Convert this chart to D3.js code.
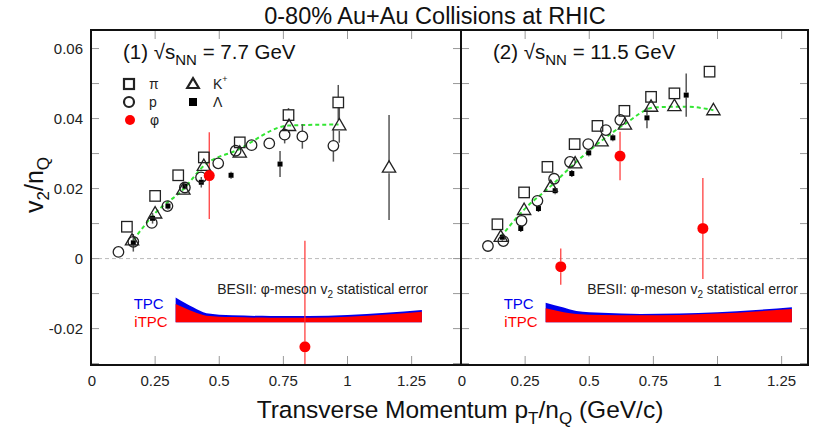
<!DOCTYPE html>
<html><head><meta charset="utf-8">
<script src="https://cdn.jsdelivr.net/npm/d3@7"></script>
<style>body{margin:0;background:#fff}svg{display:block}text{font-family:"Liberation Sans",Arial,Helvetica,sans-serif}</style>
</head><body><svg id="c" width="824" height="433"></svg>
<script>
// ---------- DATA ----------
const xTicks = [0, 0.25, 0.5, 0.75, 1, 1.25];
const xTickLabels = ["0", "0.25", "0.5", "0.75", "1", "1.25"];
const yMajorTicks = [-0.02, 0, 0.02, 0.04, 0.06];
const yTickLabels = ["-0.02", "0", "0.02", "0.04", "0.06"];
const yMinorTicks = [-0.03, -0.01, 0.01, 0.03, 0.05];

// Panel 1: 7.7 GeV
const p1PionX = [0.14, 0.25, 0.34, 0.44, 0.58, 0.77, 0.964];
const p1PionY = [0.0091, 0.0179, 0.0238, 0.0289, 0.0332, 0.0410, 0.0446];
const p1PionE = [0.001, 0.001, 0.001, 0.001, 0.001, 0.002, 0.005];
const p1ProtonX = [0.107, 0.165, 0.237, 0.298, 0.366, 0.429, 0.496, 0.564, 0.626, 0.695, 0.755, 0.824, 0.945];
const p1ProtonY = [0.0019, 0.0048, 0.0102, 0.0150, 0.0203, 0.0232, 0.0272, 0.0308, 0.0324, 0.0329, 0.0354, 0.0349, 0.0322];
const p1ProtonE = [0.0005, 0.0008, 0.001, 0.001, 0.001, 0.001, 0.001, 0.001, 0.001, 0.001, 0.0025, 0.0035, 0.0045];
const p1KaonX = [0.16, 0.25, 0.36, 0.44, 0.58, 0.772, 0.968, 1.162];
const p1KaonY = [0.0052, 0.0129, 0.0197, 0.0265, 0.0303, 0.0379, 0.0381, 0.0260];
const p1KaonE = [0.001, 0.001, 0.001, 0.001, 0.001, 0.002, 0.005, 0.015];
const p1LambdaX = [0.165, 0.24, 0.30, 0.366, 0.43, 0.546, 0.737];
const p1LambdaY = [0.0045, 0.0115, 0.0150, 0.0207, 0.0218, 0.0238, 0.0270];
const p1LambdaE = [0.0025, 0.0015, 0.001, 0.001, 0.0015, 0.001, 0.0037];
const p1PhiX = [0.461, 0.834];
const p1PhiY = [0.0237, -0.0252];
const p1PhiE = [0.0124, 0.0303];
const p1FitX = [0.165, 0.25, 0.36, 0.44, 0.57, 0.77, 0.965];
const p1FitY = [0.0053, 0.013, 0.0198, 0.0265, 0.031, 0.038, 0.0383];
const p1BandX = [0.33, 0.40, 0.45, 0.55, 0.70, 0.85, 1.0, 1.15, 1.29];
const p1BandTPC = [-0.0111, -0.0140, -0.0156, -0.0162, -0.0164, -0.0164, -0.0161, -0.0155, -0.0147];
const p1BandITPC = [-0.0130, -0.0152, -0.0163, -0.0167, -0.0169, -0.0169, -0.0166, -0.0160, -0.0152];

// Panel 2: 11.5 GeV
const p2PionX = [0.142, 0.246, 0.337, 0.443, 0.532, 0.637, 0.741, 0.832, 0.969];
const p2PionY = [0.0098, 0.0189, 0.0262, 0.0327, 0.0379, 0.0422, 0.0462, 0.0472, 0.0534];
const p2PionE = [0.001, 0.001, 0.001, 0.001, 0.001, 0.001, 0.001, 0.001, 0.001];
const p2ProtonX = [0.105, 0.165, 0.236, 0.298, 0.363, 0.425, 0.496, 0.565, 0.621];
const p2ProtonY = [0.0036, 0.0050, 0.0108, 0.0165, 0.0228, 0.0276, 0.0327, 0.0367, 0.0396];
const p2ProtonE = [0.0005, 0.0005, 0.0008, 0.0008, 0.001, 0.001, 0.001, 0.001, 0.001];
const p2KaonX = [0.155, 0.246, 0.35, 0.445, 0.548, 0.639, 0.741, 0.832, 0.984];
const p2KaonY = [0.0062, 0.0139, 0.0205, 0.0272, 0.0335, 0.0383, 0.0434, 0.0436, 0.0424];
const p2KaonE = [0.0005, 0.0008, 0.0008, 0.001, 0.001, 0.001, 0.001, 0.001, 0.001];
const p2LambdaX = [0.161, 0.233, 0.302, 0.367, 0.432, 0.498, 0.592, 0.725, 0.878];
const p2LambdaY = [0.0061, 0.0086, 0.0143, 0.0194, 0.0243, 0.0302, 0.0345, 0.0402, 0.0467];
const p2LambdaE = [0.001, 0.001, 0.001, 0.001, 0.001, 0.001, 0.001, 0.003, 0.0062];
const p2PhiX = [0.389, 0.62, 0.943];
const p2PhiY = [-0.0023, 0.0293, 0.0086];
const p2PhiE = [0.0052, 0.0069, 0.0144];
const p2FitX = [0.155, 0.246, 0.35, 0.445, 0.545, 0.64, 0.754, 0.878, 0.984];
const p2FitY = [0.0062, 0.014, 0.0207, 0.0273, 0.0335, 0.0385, 0.0432, 0.0434, 0.0424];
const p2BandX = [0.33, 0.40, 0.45, 0.55, 0.70, 0.85, 1.0, 1.15, 1.29];
const p2BandTPC = [-0.0126, -0.0140, -0.0150, -0.0155, -0.0158, -0.0157, -0.0153, -0.0147, -0.0139];
const p2BandITPC = [-0.0142, -0.0153, -0.0158, -0.0161, -0.0162, -0.0161, -0.0157, -0.0151, -0.0144];
const bandBase = -0.0182;

const panelLabels = [["(1) √s", "NN", " = 7.7 GeV"], ["(2) √s", "NN", " = 11.5 GeV"]];

// ---------- DRAW ----------
const svg = d3.select("#c");
const y = d3.scaleLinear().domain([-0.0304, 0.0653]).range([365, 30]);
const Y0 = 30, Y1 = 365;

const panels = [
  {x0: 91, x1: 461, pion: [p1PionX, p1PionY, p1PionE], proton: [p1ProtonX, p1ProtonY, p1ProtonE],
   kaon: [p1KaonX, p1KaonY, p1KaonE], lambda: [p1LambdaX, p1LambdaY, p1LambdaE], phi: [p1PhiX, p1PhiY, p1PhiE],
   fit: [p1FitX, p1FitY], band: [p1BandX, p1BandTPC, p1BandITPC], label: panelLabels[0], legend: true},
  {x0: 461, x1: 808, pion: [p2PionX, p2PionY, p2PionE], proton: [p2ProtonX, p2ProtonY, p2ProtonE],
   kaon: [p2KaonX, p2KaonY, p2KaonE], lambda: [p2LambdaX, p2LambdaY, p2LambdaE], phi: [p2PhiX, p2PhiY, p2PhiE],
   fit: [p2FitX, p2FitY], band: [p2BandX, p2BandTPC, p2BandITPC], label: panelLabels[1], legend: false}
];

const MK = "#222", EB = "#555";

function drawMarker(g, type, cx, cy, s, sw) {
  if (type === "pion") {
    g.append("rect").attr("x", cx - s/2).attr("y", cy - s/2).attr("width", s).attr("height", s)
      .attr("fill", "none").attr("stroke", MK).attr("stroke-width", sw);
  } else if (type === "proton") {
    g.append("circle").attr("cx", cx).attr("cy", cy).attr("r", s/2)
      .attr("fill", "none").attr("stroke", MK).attr("stroke-width", sw);
  } else if (type === "kaon") {
    const h = s * 0.95;
    g.append("path").attr("d", `M${cx},${cy - h*0.62}L${cx + s*0.58},${cy + h*0.42}L${cx - s*0.58},${cy + h*0.42}Z`)
      .attr("fill", "none").attr("stroke", MK).attr("stroke-width", sw);
  } else if (type === "lambda") {
    g.append("rect").attr("x", cx - s/2).attr("y", cy - s/2).attr("width", s).attr("height", s).attr("fill", "#000");
  } else if (type === "phi") {
    g.append("circle").attr("cx", cx).attr("cy", cy).attr("r", s/2).attr("fill", "#f00");
  }
}

panels.forEach((P, pi) => {
  const x = d3.scaleLinear().domain([0, (P.x1 - P.x0) / 256.5]).range([P.x0, P.x1]);
  const g = svg.append("g");
  const clipId = "clip" + pi;
  svg.append("clipPath").attr("id", clipId).append("rect")
    .attr("x", P.x0).attr("y", Y0).attr("width", P.x1 - P.x0).attr("height", Y1 - Y0);
  const inner = g.append("g").attr("clip-path", `url(#${clipId})`);

  // zero dashed line
  inner.append("line").attr("x1", P.x0).attr("x2", P.x1).attr("y1", y(0)).attr("y2", y(0))
    .attr("stroke", "#bbb").attr("stroke-width", 1).attr("stroke-dasharray", "4,3");

  // ticks
  xTicks.forEach(t => {
    if (t === 0) return;
    g.append("line").attr("x1", x(t)).attr("x2", x(t)).attr("y1", Y1).attr("y2", Y1 - 9).attr("stroke", "#999");
    g.append("line").attr("x1", x(t)).attr("x2", x(t)).attr("y1", Y0).attr("y2", Y0 + 9).attr("stroke", "#999");
  });
  yMajorTicks.concat(yMinorTicks).forEach(t => {
    g.append("line").attr("x1", P.x0).attr("x2", P.x0 + 8).attr("y1", y(t)).attr("y2", y(t)).attr("stroke", "#999");
    g.append("line").attr("x1", P.x1).attr("x2", P.x1 - 8).attr("y1", y(t)).attr("y2", y(t)).attr("stroke", "#999");
  });

  // x tick labels
  xTicks.forEach((t, i) => {
    g.append("text").attr("x", x(t) + (t === 0 ? 1 : 0)).attr("y", 386).attr("text-anchor", "middle")
      .attr("font-size", 15).attr("fill", "#222").text(xTickLabels[i]);
  });

  // bands
  const [bx, btpc, bitpc] = P.band;
  const bandIdx = d3.range(bx.length);
  const areaT = d3.area().x(i => x(bx[i])).y0(y(bandBase)).y1(i => y(btpc[i])).curve(d3.curveMonotoneX);
  const areaI = d3.area().x(i => x(bx[i])).y0(y(bandBase)).y1(i => y(bitpc[i])).curve(d3.curveMonotoneX);
  inner.append("path").attr("d", areaT(bandIdx)).attr("fill", "#0000ee");
  inner.append("path").attr("d", areaI(bandIdx)).attr("fill", "#ff0000");
  const bx0 = x(bx[0]);
  g.append("text").attr("x", bx0 - 12).attr("y", y(-0.0143)).attr("text-anchor", "end")
    .attr("font-size", 15).attr("fill", "#0000ee").text("TPC");
  g.append("text").attr("x", bx0 - 8).attr("y", y(-0.0195)).attr("text-anchor", "end")
    .attr("font-size", 15).attr("fill", "#ff0000").text("iTPC");
  const bt = g.append("text").attr("x", x(bx[bx.length - 1]) + 6).attr("y", y(-0.0102)).attr("text-anchor", "end")
    .attr("font-size", 14).attr("fill", "#222");
  bt.append("tspan").text("BESII: φ-meson v");
  bt.append("tspan").attr("font-size", 10).attr("dy", 4).text("2");
  bt.append("tspan").attr("dy", -4).text(" statistical error");

  // fit line
  const [fx, fy] = P.fit;
  const line = d3.line().x(i => x(fx[i])).y(i => y(fy[i])).curve(d3.curveMonotoneX);
  inner.append("path").attr("d", line(d3.range(fx.length))).attr("fill", "none")
    .attr("stroke", "#33e633").attr("stroke-width", 2).attr("stroke-dasharray", "4,3");

  // error bars (outside the marker only) + markers
  const series = [["lambda", P.lambda, 5], ["proton", P.proton, 10.5], ["kaon", P.kaon, 11.5], ["pion", P.pion, 10.5], ["phi", P.phi, 11]];
  series.forEach(([type, [xs, ys, es], s]) => {
    xs.forEach((v, i) => {
      const cy = y(ys[i]), top = y(ys[i] + es[i]), bot = y(ys[i] - es[i]);
      const half = s / 2;
      const col = type === "phi" ? "#ff3030" : EB, w = type === "phi" ? 1.2 : 1.5;
      if (cy - top > half) inner.append("line").attr("x1", x(v)).attr("x2", x(v)).attr("y1", top).attr("y2", cy - half)
        .attr("stroke", col).attr("stroke-width", w);
      if (bot - cy > half) inner.append("line").attr("x1", x(v)).attr("x2", x(v)).attr("y1", cy + half).attr("y2", bot)
        .attr("stroke", col).attr("stroke-width", w);
    });
  });
  series.forEach(([type, [xs, ys], s]) => {
    xs.forEach((v, i) => drawMarker(inner, type, x(v), y(ys[i]), s, 1.3));
  });

  // frame
  g.append("rect").attr("x", P.x0).attr("y", Y0).attr("width", P.x1 - P.x0).attr("height", Y1 - Y0)
    .attr("fill", "none").attr("stroke", "#111").attr("stroke-width", 2);

  // panel label
  const lt = g.append("text").attr("x", P.x0 + 32).attr("y", 59).attr("font-size", 20.5).attr("fill", "#111");
  lt.append("tspan").text(P.label[0]);
  lt.append("tspan").attr("font-size", 15).attr("dy", 6).text(P.label[1]);
  lt.append("tspan").attr("dy", -6).text(P.label[2]);

  // legend
  if (P.legend) {
    const L = [["pion", "π", 129, 84], ["kaon", "K", 193, 84], ["proton", "p", 129, 102], ["lambda", "Λ", 193, 102], ["phi", "φ", 130, 120]];
    L.forEach(([type, lab, lx, ly]) => {
      drawMarker(g, type, lx, ly, type === "lambda" ? 8 : 10, 2.2);
      const tx = g.append("text").attr("x", lx + 20).attr("y", ly + 5).attr("font-size", 14).attr("fill", "#222").text(lab);
      if (type === "kaon") tx.append("tspan").attr("font-size", 9).attr("dy", -7).text("+");
    });
  }
});

// y tick labels
yMajorTicks.forEach((t, i) => {
  svg.append("text").attr("x", 83).attr("y", y(t) + 5).attr("text-anchor", "end")
    .attr("font-size", 15).attr("fill", "#222").text(yTickLabels[i]);
});

// title
svg.append("text").attr("x", 435).attr("y", 24).attr("text-anchor", "middle")
  .attr("font-size", 23.5).attr("fill", "#111").text("0-80% Au+Au Collisions at RHIC");

// x title
const xt = svg.append("text").attr("x", 460).attr("y", 418).attr("text-anchor", "middle")
  .attr("font-size", 24.5).attr("fill", "#111");
xt.append("tspan").text("Transverse Momentum p");
xt.append("tspan").attr("font-size", 17).attr("dy", 6).text("T");
xt.append("tspan").attr("dy", -6).text("/n");
xt.append("tspan").attr("font-size", 17).attr("dy", 6).text("Q");
xt.append("tspan").attr("dy", -6).text(" (GeV/c)");

// y title
const yt = svg.append("text").attr("transform", "translate(43,185) rotate(-90)").attr("text-anchor", "middle")
  .attr("font-size", 25).attr("fill", "#111");
yt.append("tspan").text("v");
yt.append("tspan").attr("font-size", 17).attr("dy", 6).text("2");
yt.append("tspan").attr("dy", -6).text("/n");
yt.append("tspan").attr("font-size", 17).attr("dy", 6).text("Q");
</script></body></html>
